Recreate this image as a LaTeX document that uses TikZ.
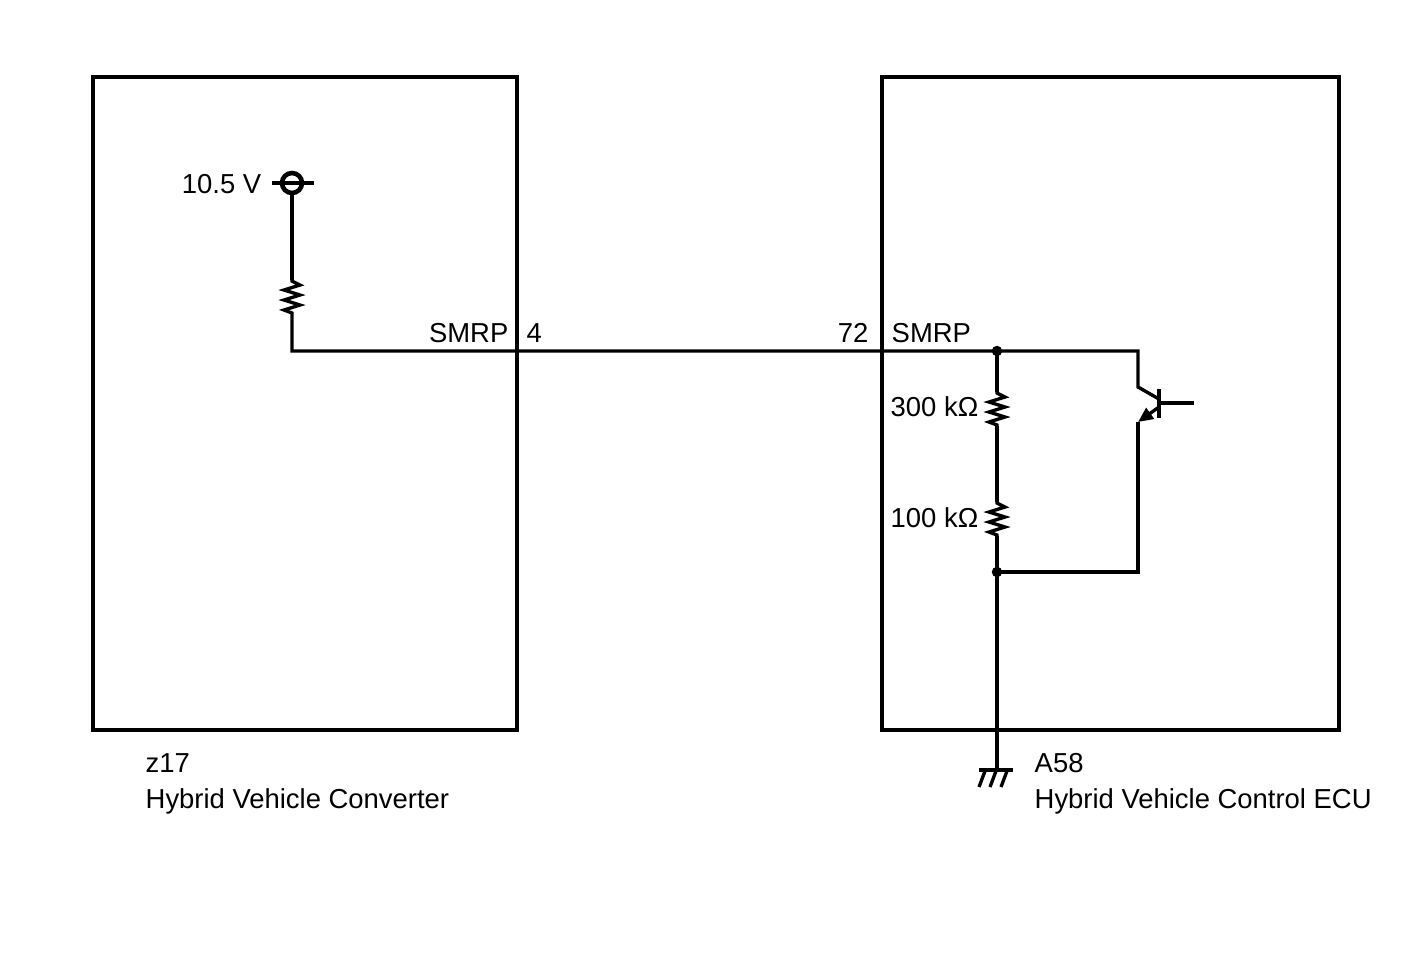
\documentclass[tikz,border=0pt]{standalone}
\usepackage{fontspec}
\setmainfont{Liberation Sans}
\usetikzlibrary{arrows.meta}
\tikzset{
  wire/.style={line width=0.95pt},
  lbl/.style={inner sep=0pt, font=\fontsize{7.8}{9.4}\selectfont},
  jdot/.style={circle, fill, inner sep=0pt, minimum size=1.05mm},
  res/.pic={\draw[wire, line join=miter] (0,0) -- (0,1) -- (8,5) -- (-8,10) -- (8,15) -- (-8,20) -- (8,25) -- (-8,30) -- (0,33) -- (0,34);},
}

\begin{document}
\begin{tikzpicture}[x=0.01cm, y=-0.01cm]
    \useasboundingbox (0,0) rectangle (1424,959);

    %Cajas de los dos modulos
    \draw[wire] (93,77) rectangle (517,730);
    \draw[wire] (882,77) rectangle (1339,730);

    %Fuente de 10.5 V
    \coordinate (src) at (292,183);
    \draw[line width=1.3pt] (src) circle (10);
    \draw[wire] (272,183) -- (314,183);
    \node[lbl, anchor=base east] (srclbl) at (262,193) {10.5 V};

    %Resistencia del convertidor
    \coordinate (r1top) at (292,280);
    \coordinate (r1bot) at (292,314);
    \coordinate (corner) at (292,351);
    \draw[wire] (292,193) -- (r1top);
    \pic at (r1top) {res};

    %Linea SMRP entre los dos modulos, hasta el colector
    \coordinate (jtop) at (997,351);
    \coordinate (coll) at (1138,351);
    \coordinate (cbend) at (1138,387);
    \draw[wire] (r1bot) -- (corner) -- (jtop) -- (coll) -- (cbend) -- (1159,399);
    \node[jdot] (dtop) at (jtop) {};
    \node[lbl, anchor=base east] (smrpl) at (509,342) {SMRP};
    \node[lbl, anchor=base west] (pin4) at (526,342) {4};
    \node[lbl, anchor=base east] (pin72) at (869,342) {72};
    \node[lbl, anchor=base west] (smrpr) at (891,342) {SMRP};

    %Divisor de tension en la ECU
    \coordinate (r2top) at (997,392);
    \coordinate (r2bot) at (997,426);
    \coordinate (r3top) at (997,502);
    \coordinate (r3bot) at (997,536);
    \coordinate (jbot) at (997,572);
    \draw[wire] (jtop) -- (r2top);
    \pic at (r2top) {res};
    \draw[wire] (r2bot) -- (r3top);
    \pic at (r3top) {res};
    \draw[wire] (r3bot) -- (jbot);
    \node[jdot] (dbot) at (jbot) {};
    \node[lbl, anchor=base east] (r2lbl) at (979,416) {300 kΩ};
    \node[lbl, anchor=base east] (r3lbl) at (979,527) {100 kΩ};

    %Transistor
    \coordinate (base) at (1159,403);
    \coordinate (ebase) at (1159,407);
    \coordinate (emit) at (1138,422);
    \coordinate (eback) at (1138,572);
    \draw[wire] (1159,389) -- (1159,418);
    \draw[wire] (base) -- (1194,403);
    \draw[wire, -{Triangle[length=1.5mm, width=1.3mm]}] (ebase) -- (emit);
    \draw[wire] (emit) -- (eback) -- (jbot);

    %Masa
    \coordinate (gnd) at (997,770);
    \draw[wire] (jbot) -- (gnd);
    \draw[wire] (979,770) -- (1013,770);
    \foreach \gx in {985,996,1007}
        \draw[wire] (\gx,771) -- (\gx-6,787);

    %Nombres de los modulos
    \node[lbl, anchor=base west] (z17) at (145,772) {z17};
    \node[lbl, anchor=base west] (z17name) at (145,808) {Hybrid Vehicle Converter};
    \node[lbl, anchor=base west] (a58) at (1034,772) {A58};
    \node[lbl, anchor=base west] (a58name) at (1034,808) {Hybrid Vehicle Control ECU};
\end{tikzpicture}
\end{document}
